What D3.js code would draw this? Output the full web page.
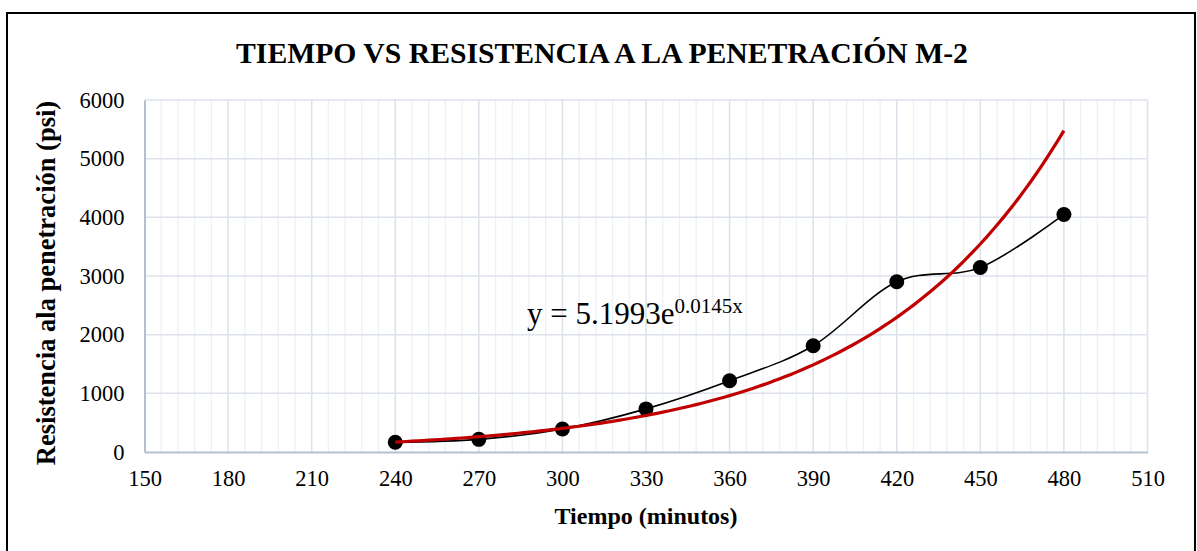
<!DOCTYPE html>
<html>
<head>
<meta charset="utf-8">
<script src="https://cdn.jsdelivr.net/npm/d3@7"></script>
<style>
  body { margin: 0; background: #fff; }
  text { font-family: "Liberation Serif", "Times New Roman", serif; fill: #000; }
</style>
</head>
<body>
<div id="graph"></div>
<script>
var width = 1197, height = 551

// data
var tiempo = [240, 270, 300, 330, 360, 390, 420, 450, 480]
var resistencia = [165, 216, 392, 735, 1215, 1811, 2901, 3146, 4049]
var xTicks = [150, 180, 210, 240, 270, 300, 330, 360, 390, 420, 450, 480, 510]
var yTicks = [0, 1000, 2000, 3000, 4000, 5000, 6000]
// exponential trendline y = a e^(b x), as labelled
var trendA = 5.1993, trendB = 0.0145

var margin = {left: 144.5, right: 1147.5, top: 100, bottom: 452}

var x = d3.scaleLinear().domain([150, 510]).range([margin.left, margin.right])
var y = d3.scaleLinear().domain([0, 6000]).range([margin.bottom, margin.top])

var svg = d3.select('#graph').append('svg')
    .attr('width', width).attr('height', height)

svg.append('rect')
    .attr('x', 7).attr('y', 13).attr('width', 1188).attr('height', 560)
    .attr('fill', '#fff').attr('stroke', '#000').attr('stroke-width', 2)

// minor vertical grid every 6 min
var minor = d3.range(156, 510, 6).filter(function(d){ return (d - 150) % 30 })
svg.append('g').selectAll('line').data(minor).enter().append('line')
    .attr('x1', x).attr('x2', x)
    .attr('y1', margin.top).attr('y2', margin.bottom)
    .attr('stroke', '#EDF0F5').attr('stroke-width', 1.3)

svg.append('g').selectAll('line').data(xTicks.slice(1)).enter().append('line')
    .attr('x1', x).attr('x2', x)
    .attr('y1', margin.top).attr('y2', margin.bottom)
    .attr('stroke', '#DCE1EA').attr('stroke-width', 1.5)

svg.append('g').selectAll('line').data(yTicks.slice(1)).enter().append('line')
    .attr('x1', margin.left).attr('x2', margin.right)
    .attr('y1', y).attr('y2', y)
    .attr('stroke', '#DCE1EA').attr('stroke-width', 1.5)

// axes
var xAxis = svg.append('g')
    .attr('transform', 'translate(0,' + margin.bottom + ')')
    .call(d3.axisBottom(x).tickValues(xTicks).tickFormat(d3.format('d')).tickSize(0).tickPadding(18))
    .attr('font-family', null).attr('font-size', null)
xAxis.select('.domain').attr('stroke', '#B4BFCF').attr('stroke-width', 2)
xAxis.selectAll('text').style('font-size', '22.5px').attr('fill', '#000')

var yAxis = svg.append('g')
    .attr('transform', 'translate(' + margin.left + ',0)')
    .call(d3.axisLeft(y).tickValues(yTicks).tickFormat(d3.format('d')).tickSize(0).tickPadding(20))
    .attr('font-family', null).attr('font-size', null)
yAxis.select('.domain').attr('stroke', '#B4BFCF').attr('stroke-width', 2)
yAxis.selectAll('text').style('font-size', '22.5px').attr('fill', '#000')

// series, smoothed
var line = d3.line()
    .x(function(d, i){ return x(tiempo[i]) })
    .y(function(d){ return y(d) })
    .curve(d3.curveCardinal.tension(0))

svg.append('path')
    .datum(resistencia)
    .attr('d', line)
    .attr('fill', 'none').attr('stroke', '#000').attr('stroke-width', 1.6)

svg.append('g').selectAll('circle').data(resistencia).enter().append('circle')
    .attr('cx', function(d, i){ return x(tiempo[i]) })
    .attr('cy', y)
    .attr('r', 7.5)
    .attr('fill', '#000')

var trendX = d3.range(240, 480.01, 2)
svg.append('path')
    .datum(trendX)
    .attr('d', d3.line()
      .x(function(d){ return x(d) })
      .y(function(d){ return y(trendA * Math.exp(trendB * d)) }))
    .attr('fill', 'none').attr('stroke', '#C00000').attr('stroke-width', 3.2)

// texts
svg.append('text')
    .attr('x', 602).attr('y', 63)
    .attr('text-anchor', 'middle')
    .style('font-size', '29.7px').style('font-weight', 'bold')
    .text('TIEMPO VS RESISTENCIA A LA PENETRACIÓN M-2')

svg.append('text')
    .attr('x', 646).attr('y', 524)
    .attr('text-anchor', 'middle')
    .style('font-size', '24px').style('font-weight', 'bold')
    .text('Tiempo (minutos)')

svg.append('text')
    .attr('transform', 'translate(55,283) rotate(-90)')
    .attr('text-anchor', 'middle')
    .style('font-size', '26.5px').style('font-weight', 'bold')
    .text('Resistencia ala penetración (psi)')

var eq = svg.append('text')
    .attr('x', 527).attr('y', 324)
    .style('font-size', '31px')
eq.append('tspan').text('y = ' + trendA + 'e')
eq.append('tspan').attr('dy', -11).style('font-size', '21px').text(trendB + 'x')
</script>
</body>
</html>
